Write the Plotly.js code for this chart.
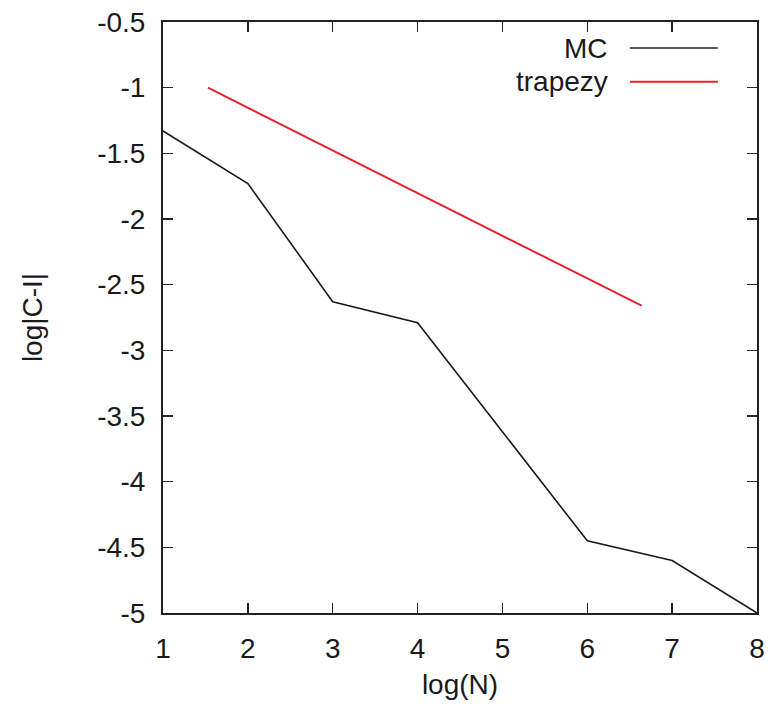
<!DOCTYPE html>
<html>
<head>
<meta charset="utf-8">
<script src="https://cdn.plot.ly/plotly-3.0.1.min.js"></script>
<style>html,body{margin:0;padding:0;background:#fff;}#chart{width:776px;height:717px;}</style>
</head>
<body>
<div id="chart"></div>
<script>
const mcX = [1, 2, 3, 4, 5, 6, 7, 8];
const mcY = [-1.33, -1.73, -2.63, -2.79, -3.62, -4.45, -4.6, -5.0];
const trapX = [1.53, 6.64];
const trapY = [-1.0, -2.66];
const seriesNames = ['MC', 'trapezy'];
const xTicks = [1, 2, 3, 4, 5, 6, 7, 8];
const xTickText = ['1', '2', '3', '4', '5', '6', '7', '8'];
const yTicks = [-0.5, -1, -1.5, -2, -2.5, -3, -3.5, -4, -4.5, -5];
const yTickText = ['-0.5', '-1', '-1.5', '-2', '-2.5', '-3', '-3.5', '-4', '-4.5', '-5'];

const colors = ['#1a1a1a', '#e3262b'];
const font = {family: 'Liberation Sans, Arial, sans-serif', size: 28, color: '#1a1a1a'};

const traces = [
  {x: mcX, y: mcY, mode: 'lines', name: seriesNames[0], line: {color: colors[0], width: 1.6}, showlegend: false},
  {x: trapX, y: trapY, mode: 'lines', name: seriesNames[1], line: {color: colors[1], width: 2}, showlegend: false}
];

const legY = [0.956, 0.899];
const annotations = seriesNames.map((n, i) => ({
  xref: 'paper', yref: 'paper', x: 0.753, y: legY[i], xanchor: 'right', yanchor: 'middle',
  text: n, showarrow: false, font: font
}));
const shapes = seriesNames.map((n, i) => ({
  type: 'line', xref: 'paper', yref: 'paper', x0: 0.786, x1: 0.934, y0: legY[i], y1: legY[i],
  line: {color: colors[i], width: i === 0 ? 1.6 : 2}
}));

const axisCommon = {
  showline: true, linecolor: '#222', linewidth: 2, mirror: 'ticks',
  ticks: 'inside', ticklen: 10, tickwidth: 1.5, tickcolor: '#222',
  showgrid: false, zeroline: false, tickfont: font
};

const layout = {
  width: 776, height: 717,
  margin: {l: 163, r: 19, t: 22, b: 104},
  paper_bgcolor: '#fff', plot_bgcolor: '#fff',
  font: font,
  showlegend: false,
  xaxis: Object.assign({}, axisCommon, {
    range: [1, 8], tickvals: xTicks, ticktext: xTickText, ticklabelstandoff: 9,
    title: {text: 'log(N)', font: font, standoff: 12}
  }),
  yaxis: Object.assign({}, axisCommon, {
    range: [-5, -0.5], tickvals: yTicks, ticktext: yTickText, ticklabelstandoff: 10,
    title: {text: 'log|C-I|', font: font, standoff: 46}
  }),
  annotations: annotations,
  shapes: shapes
};

Plotly.newPlot('chart', traces, layout, {displayModeBar: false, staticPlot: true});
</script>
</body>
</html>
